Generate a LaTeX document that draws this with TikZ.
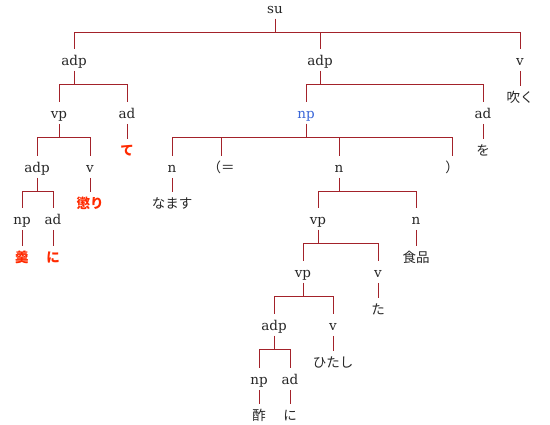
\documentclass[tikz,border=0pt]{standalone}
\usepackage{fontspec}
\setmainfont{DejaVu Serif}
\newfontfamily\jfont{Noto Sans CJK JP}
\usepackage{tikz}
\usetikzlibrary{positioning,calc}
\tikzset{arvpx/.style={x=1pt,y=-1pt,every node/.style={inner sep=0pt,outer sep=0pt,anchor=center,align=center}}}
\definecolor{arvramo}{HTML}{A3222A}
\definecolor{arvtexto}{HTML}{262626}
\definecolor{arvrealce}{HTML}{FF2A00}
\definecolor{arvazul}{HTML}{3A66D8}
\tikzset{
  cat/.style={font=\fontsize{13.5}{15}\selectfont,text=arvtexto,text height=11.5pt,text depth=0.5pt,minimum height=22pt},
  folha/.style={cat,font=\fontsize{13.5}{15}\selectfont\jfont},
  folhaviva/.style={folha,font=\fontsize{13.5}{15}\selectfont\jfont\bfseries,text=arvrealce},
  ramo/.style={draw=arvramo,line width=1pt},
}

\begin{document}
\begin{tikzpicture}[arvpx,
  catazul/.style={cat,text=arvazul}]
  \useasboundingbox (0,0) rectangle (550,425);
  % categorias
  \node[cat] (su) at (275,8) {su};
  \node[cat] (adpA) at (74,60) {adp};
  \node[cat] (adpB) at (320,60) {adp};
  \node[cat] (vA) at (520,60) {v};
  \node[cat] (vpA) at (59,113) {vp};
  \node[cat] (adA) at (127,113) {ad};
  \node[catazul] (npB) at (306,113) {np};
  \node[cat] (adB) at (483,113) {ad};
  \node[cat] (adpC) at (37,167) {adp};
  \node[cat] (vB) at (90,167) {v};
  \node[cat] (nA) at (172,167) {n};
  \node[cat] (eqA) at (221,167) {\jfont （＝};
  \node[cat] (nB) at (339,167) {n};
  \node[cat] (fpA) at (452,167) {\jfont ）};
  \node[cat] (npC) at (22,219) {np};
  \node[cat] (adC) at (53,219) {ad};
  \node[cat] (vpB) at (318,219) {vp};
  \node[cat] (nC) at (416,219) {n};
  \node[cat] (vpC) at (303,272) {vp};
  \node[cat] (vC) at (378,272) {v};
  \node[cat] (adpD) at (274,325) {adp};
  \node[cat] (vD) at (333,325) {v};
  \node[cat] (npD) at (259,379) {np};
  \node[cat] (adD) at (290,379) {ad};
  % palavras
  \node[folha] (wvA) at (520,97) {吹く};
  \node[folhaviva] (wadA) at (127,150) {て};
  \node[folha] (wadB) at (483,150) {を};
  \node[folhaviva] (wvB) at (90,203) {懲り};
  \node[folha] (wnA) at (172,203) {なます};
  \node[folhaviva] (wnpC) at (22,257) {羹};
  \node[folhaviva] (wadC) at (53,257) {に};
  \node[folha] (wnC) at (416,257) {食品};
  \node[folha] (wvC) at (378,309) {た};
  \node[folha] (wvD) at (333,362) {ひたし};
  \node[folha] (wnpD) at (259,415) {酢};
  \node[folha] (wadD) at (290,415) {に};
  % ramos
  \foreach \p/\c in {su/adpA,su/adpB,su/vA,adpA/vpA,adpA/adA,adpB/npB,adpB/adB,
    vpA/adpC,vpA/vB,npB/nA,npB/eqA,npB/nB,npB/fpA,adpC/npC,adpC/adC,nB/vpB,nB/nC,
    vpB/vpC,vpB/vC,vpC/adpD,vpC/vD,adpD/npD,adpD/adD}
    \draw[ramo] (\p.south) -- ++(0,14) -| (\c.north);
  \foreach \p/\c in {vA/wvA,adA/wadA,adB/wadB,vB/wvB,nA/wnA,npC/wnpC,adC/wadC,
    nC/wnC,vC/wvC,vD/wvD,npD/wnpD,adD/wadD}
    \draw[ramo] (\p.south) -- (\c.north);
\end{tikzpicture}
\end{document}
